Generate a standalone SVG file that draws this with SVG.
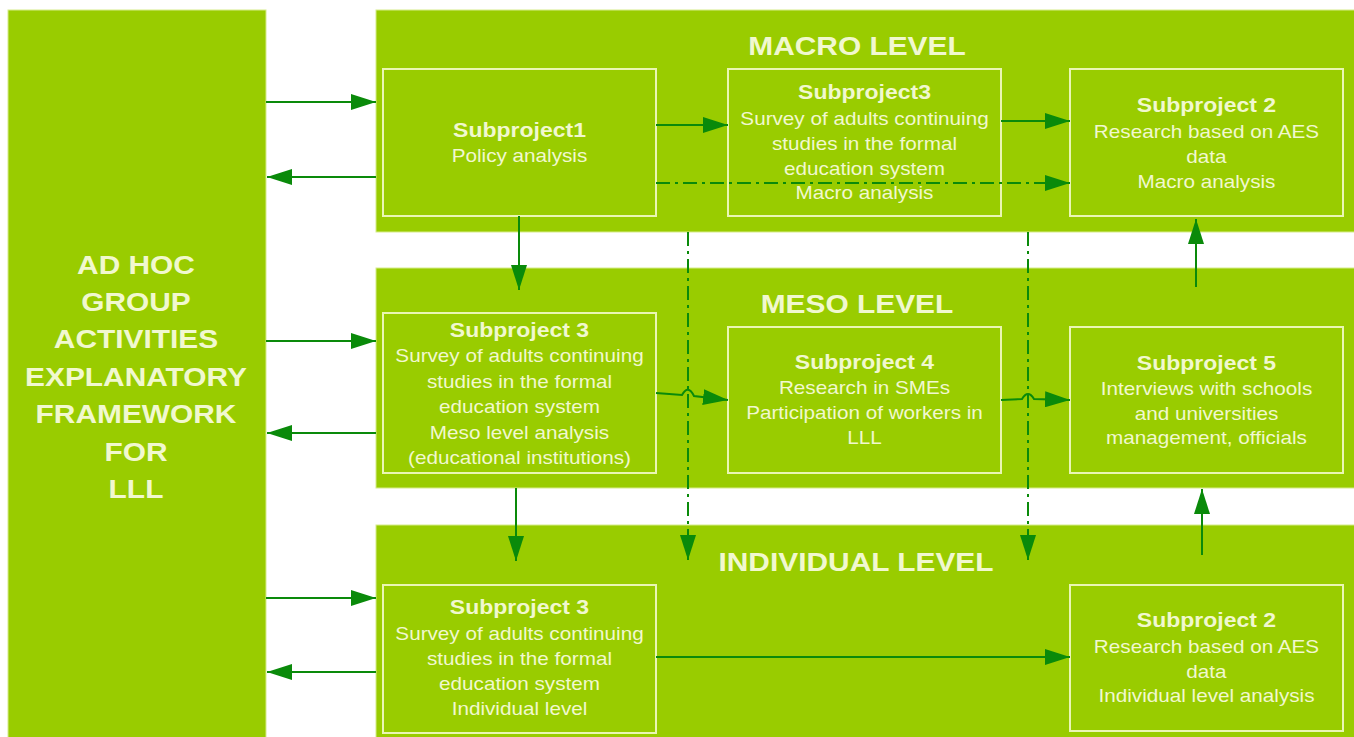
<svg xmlns="http://www.w3.org/2000/svg" width="1354" height="737" viewBox="0 0 1354 737">
<style>
.panel{fill:#99cc00;stroke:#d6ec8a;stroke-width:1}
.box{fill:#99cc00;stroke:#eaf6b4;stroke-width:2}
.t{font-family:"Liberation Sans",Arial,sans-serif;fill:#f1f8cf;text-anchor:middle}
.b{font-weight:bold;font-size:20px}
.r{font-size:18px}
.h{font-weight:bold;font-size:26px}
.c{stroke:#0a8a0a;stroke-width:2;fill:none}
.dd{stroke-dasharray:14 5 3 5}
</style>
<defs>
<marker id="ah" markerUnits="userSpaceOnUse" markerWidth="25" markerHeight="16" viewBox="0 0 25 16" refX="25" refY="8" orient="auto">
<path d="M0,0 L25,8 L0,16 z" fill="#0a8a0a"/>
</marker>
</defs>
<rect width="1354" height="737" fill="#ffffff"/>

<g id="left-bar">
<rect class="panel" x="8" y="10" width="258" height="730"/>
<g transform="translate(136 0) scale(1.15 1)">
<text class="t h" x="0" y="274">AD HOC</text>
<text class="t h" x="0" y="311">GROUP</text>
<text class="t h" x="0" y="348">ACTIVITIES</text>
<text class="t h" x="0" y="386">EXPLANATORY</text>
<text class="t h" x="0" y="423">FRAMEWORK</text>
<text class="t h" x="0" y="461">FOR</text>
<text class="t h" x="0" y="498">LLL</text>
</g>
</g>

<g id="macro-level">
<rect class="panel" x="376" y="10" width="980" height="222"/>
<g transform="translate(857 0) scale(1.15 1)"><text class="t h" x="0" y="55">MACRO LEVEL</text></g>
</g>
<g id="meso-level">
<rect class="panel" x="376" y="268" width="980" height="220"/>
<g transform="translate(857 0) scale(1.15 1)"><text class="t h" x="0" y="313">MESO LEVEL</text></g>
</g>
<g id="individual-level">
<rect class="panel" x="376" y="525" width="980" height="215"/>
<g transform="translate(856 0) scale(1.15 1)"><text class="t h" x="0" y="571">INDIVIDUAL LEVEL</text></g>
</g>

<g id="macro-sub1">
<rect class="box" x="383" y="69" width="273" height="147"/>
<g transform="translate(519.5 0) scale(1.15 1)">
<text class="t b" x="0" y="137">Subproject1</text>
<text class="t r" x="0" y="162">Policy analysis</text>
</g>
</g>
<g id="macro-sub3">
<rect class="box" x="728" y="69" width="273" height="147"/>
<g transform="translate(864.5 0) scale(1.15 1)">
<text class="t b" x="0" y="99">Subproject3</text>
<text class="t r" x="0" y="125">Survey of adults continuing</text>
<text class="t r" x="0" y="150">studies in the formal</text>
<text class="t r" x="0" y="175">education system</text>
<text class="t r" x="0" y="199">Macro analysis</text>
</g>
</g>
<g id="macro-sub2">
<rect class="box" x="1070" y="69" width="273" height="147"/>
<g transform="translate(1206.5 0) scale(1.15 1)">
<text class="t b" x="0" y="112">Subproject 2</text>
<text class="t r" x="0" y="138">Research based on AES</text>
<text class="t r" x="0" y="163">data</text>
<text class="t r" x="0" y="188">Macro analysis</text>
</g>
</g>

<g id="meso-sub3">
<rect class="box" x="383" y="313" width="273" height="160"/>
<g transform="translate(519.5 0) scale(1.15 1)">
<text class="t b" x="0" y="337">Subproject 3</text>
<text class="t r" x="0" y="362">Survey of adults continuing</text>
<text class="t r" x="0" y="388">studies in the formal</text>
<text class="t r" x="0" y="413">education system</text>
<text class="t r" x="0" y="439">Meso level analysis</text>
<text class="t r" x="0" y="464">(educational institutions)</text>
</g>
</g>
<g id="meso-sub4">
<rect class="box" x="728" y="327" width="273" height="146"/>
<g transform="translate(864.5 0) scale(1.15 1)">
<text class="t b" x="0" y="369">Subproject 4</text>
<text class="t r" x="0" y="394">Research in SMEs</text>
<text class="t r" x="0" y="419">Participation of workers in</text>
<text class="t r" x="0" y="444">LLL</text>
</g>
</g>
<g id="meso-sub5">
<rect class="box" x="1070" y="327" width="273" height="146"/>
<g transform="translate(1206.5 0) scale(1.15 1)">
<text class="t b" x="0" y="370">Subproject 5</text>
<text class="t r" x="0" y="395">Interviews with schools</text>
<text class="t r" x="0" y="420">and universities</text>
<text class="t r" x="0" y="444">management, officials</text>
</g>
</g>

<g id="ind-sub3">
<rect class="box" x="383" y="585" width="273" height="148"/>
<g transform="translate(519.5 0) scale(1.15 1)">
<text class="t b" x="0" y="614">Subproject 3</text>
<text class="t r" x="0" y="640">Survey of adults continuing</text>
<text class="t r" x="0" y="665">studies in the formal</text>
<text class="t r" x="0" y="690">education system</text>
<text class="t r" x="0" y="715">Individual level</text>
</g>
</g>
<g id="ind-sub2">
<rect class="box" x="1070" y="585" width="273" height="146"/>
<g transform="translate(1206.5 0) scale(1.15 1)">
<text class="t b" x="0" y="627">Subproject 2</text>
<text class="t r" x="0" y="653">Research based on AES</text>
<text class="t r" x="0" y="678">data</text>
<text class="t r" x="0" y="702">Individual level analysis</text>
</g>
</g>

<g id="connectors">
<line class="c" x1="266" y1="102" x2="376" y2="102" marker-end="url(#ah)"/>
<line class="c" x1="376" y1="177" x2="267" y2="177" marker-end="url(#ah)"/>
<line class="c" x1="266" y1="341" x2="376" y2="341" marker-end="url(#ah)"/>
<line class="c" x1="376" y1="433" x2="267" y2="433" marker-end="url(#ah)"/>
<line class="c" x1="266" y1="598" x2="376" y2="598" marker-end="url(#ah)"/>
<line class="c" x1="376" y1="672" x2="267" y2="672" marker-end="url(#ah)"/>

<line class="c" x1="656" y1="125" x2="728" y2="125" marker-end="url(#ah)"/>
<line class="c" x1="1001" y1="121" x2="1070" y2="121" marker-end="url(#ah)"/>
<line class="c dd" x1="656" y1="183" x2="1070" y2="183" marker-end="url(#ah)"/>

<line class="c" x1="519" y1="216" x2="519" y2="290" marker-end="url(#ah)"/>
<line class="c" x1="516" y1="488" x2="516" y2="561" marker-end="url(#ah)"/>
<line class="c dd" x1="688" y1="232" x2="688" y2="560" marker-end="url(#ah)"/>
<line class="c dd" x1="1028" y1="232" x2="1028" y2="560" marker-end="url(#ah)"/>

<path class="c" d="M656,393 L682,395 Q688,384 694,396 L728,400" marker-end="url(#ah)"/>
<path class="c" d="M1001,400 L1022,399 Q1028,389 1034,399 L1070,400" marker-end="url(#ah)"/>

<line class="c" x1="1196" y1="287" x2="1196" y2="219" marker-end="url(#ah)"/>
<line class="c" x1="1202" y1="555" x2="1202" y2="489" marker-end="url(#ah)"/>
<line class="c" x1="656" y1="657" x2="1070" y2="657" marker-end="url(#ah)"/>
</g>
</svg>
